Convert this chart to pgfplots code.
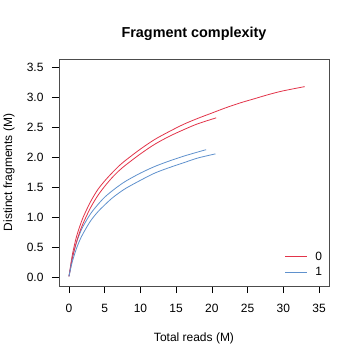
\documentclass[border=0pt]{standalone}
\usepackage{pgfplots}
\pgfplotsset{compat=1.18}
\usepackage{fontspec}
\setmainfont{Liberation Sans}
\definecolor{cred}{RGB}{226,52,74}
\definecolor{cblue}{RGB}{95,145,205}
\begin{document}
\begin{tikzpicture}
\begin{axis}[name=ax,
  scale only axis, width=270bp, height=227bp,
  xmin=-1.4, xmax=36.4, ymin=-0.14, ymax=3.64,
  xtick={0,5,...,35}, ytick={0,0.5,...,3.5},
  yticklabel style={/pgf/number format/fixed, /pgf/number format/fixed zerofill, /pgf/number format/precision=1, xshift=-5bp},
  /pgf/number format/assume math mode=true,
  tick align=outside, major tick length=7bp,
  tick style={black, line width=0.5bp},
  xtick pos=bottom, ytick pos=left,
  axis line style={black!70, line width=0.6bp},
  ticklabel style={font=\fontsize{12bp}{14bp}\selectfont},
  xticklabel style={yshift=-8bp},
  label style={font=\fontsize{12bp}{14bp}\selectfont},
  xlabel={Total reads (M)}, ylabel={Distinct fragments (M)},
  xlabel style={at={(axis description cs:0.5,-0.229)}, anchor=center},
  ylabel style={at={(axis description cs:-0.185,0.5)}, anchor=center, rotate=0},
  title={Fragment complexity},
  title style={at={(axis description cs:0.5,1.084)}, anchor=center, font=\fontsize{14.4bp}{16bp}\selectfont\bfseries},
  legend style={draw=none, fill=none, at={(axis description cs:0.835,0.095)}, anchor=west, font=\fontsize{12bp}{14bp}\selectfont, row sep=1.5bp, inner sep=0pt},
  legend cell align=left,
  legend image code/.code={\draw[#1] (0bp,0bp) -- (22bp,0bp); \path (28bp,0bp);},
]
\addlegendimage{cred, line width=0.8bp}
\addlegendentry{0}
\addlegendimage{cblue, line width=0.8bp}
\addlegendentry{1}
\addplot[cred, line width=0.8bp, smooth, forget plot] coordinates {
(0,0.02) (0.25,0.22) (0.5,0.40) (1,0.66) (1.5,0.85) (2,1.01) (3,1.26) (4,1.46) (5,1.61) (6,1.74) (7,1.86) (8,1.96) (10,2.14) (12,2.30) (14,2.43) (16,2.55) (18,2.65) (20,2.74) (22,2.83) (24,2.91) (26,2.98) (28,3.05) (30,3.11) (33,3.18)};
\addplot[cblue, line width=0.8bp, smooth, forget plot] coordinates {
(0,0.02) (0.25,0.20) (0.5,0.35) (1,0.57) (1.5,0.73) (2,0.86) (3,1.06) (4,1.21) (5,1.34) (6,1.44) (7,1.53) (8,1.61) (10,1.74) (12,1.85) (14,1.94) (16,2.02) (18,2.09) (19.2,2.13)};
\addplot[cred, line width=0.8bp, smooth, forget plot] coordinates {
(0,0.02) (0.25,0.18) (0.5,0.34) (1,0.57) (1.5,0.76) (2,0.91) (3,1.16) (4,1.36) (5,1.52) (6,1.66) (7,1.78) (8,1.88) (10,2.06) (12,2.22) (14,2.35) (16,2.46) (18,2.56) (20.6,2.66)};
\addplot[cblue, line width=0.8bp, smooth, forget plot] coordinates {
(0,0.02) (0.25,0.16) (0.5,0.28) (1,0.47) (1.5,0.62) (2,0.74) (3,0.94) (4,1.09) (5,1.21) (6,1.32) (7,1.41) (8,1.49) (10,1.62) (12,1.74) (14,1.83) (16,1.91) (18,1.99) (20.5,2.06)};
\end{axis}
\path (ax.south west) ++(-59bp,-74bp) rectangle ++(360bp,360bp);
\end{tikzpicture}
\end{document}
